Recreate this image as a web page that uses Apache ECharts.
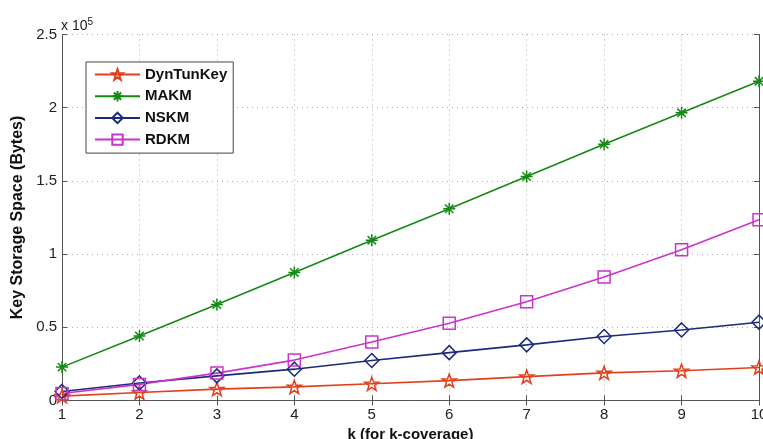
<!DOCTYPE html>
<html>
<head>
    <meta charset="UTF-8">
    <title>Key Storage Space</title>
    <script src="https://cdn.jsdelivr.net/npm/echarts@6/dist/echarts.min.js"></script>
    <style>
        html, body { margin: 0; padding: 0; background: #fff; }
        #main { width: 763px; height: 439px; }
    </style>
</head>
<body>
<div id="main"></div>
<script type="text/javascript">
    // k values and storage in bytes
    var kValues = [1, 2, 3, 4, 5, 6, 7, 8, 9, 10];
    var dynTunKey = [3000, 5500, 7800, 9300, 11400, 13600, 16300, 18900, 20300, 22500];
    var makm = [22800, 44000, 65500, 87500, 109500, 131000, 153000, 175000, 196500, 218000];
    var nskm = [6200, 12000, 16800, 21400, 27300, 32700, 38000, 43700, 48200, 53500];
    var rdkm = [4800, 11000, 18700, 27600, 40000, 52800, 67500, 84400, 103000, 123500];
    var yTickLabels = ['0', '0.5', '1', '1.5', '2', '2.5'];

    var starPath = 'path://M0,-100L23.5,-32.4L95.1,-30.9L38,12.4L58.8,80.9L0,40L-58.8,80.9L-38,12.4L-95.1,-30.9L-23.5,-32.4Z';
    var asteriskPath = 'path://M0,-100L0,100M-100,0L100,0M-70,-70L70,70M-70,70L70,-70';
    var diamondPath = 'path://M0,-100L100,0L0,100L-100,0Z';
    var squarePath = 'path://M-100,-100L100,-100L100,100L-100,100Z';

    function pairs(ys) {
        return kValues.map(function (k, i) { return [k, ys[i]]; });
    }

    function makeSeries(name, ys, color, symbol, size) {
        return {
            name: name,
            type: 'line',
            data: pairs(ys),
            symbol: symbol,
            symbolSize: size,
            symbolKeepAspect: true,
            showAllSymbol: true,
            color: color,
            lineStyle: { color: color, width: 1.6 },
            itemStyle: { color: 'rgba(255,255,255,0)', borderColor: color, borderWidth: 1.5 },
            emphasis: { disabled: true },
            z: 3
        };
    }

    var font = 'Liberation Sans, Arial, sans-serif';
    var frame = { show: true, lineStyle: { color: '#555', width: 1 } };

    var myChart = echarts.init(document.getElementById('main'));

    var option = {
        animation: false,
        backgroundColor: '#fff',
        textStyle: { fontFamily: font },
        title: {
            left: 56,
            top: 12,
            text: 'x 10{s|5}',
            textStyle: {
                fontSize: 14, fontWeight: 'normal', color: '#222', fontFamily: font,
                rich: { s: { fontSize: 10, verticalAlign: 'top', padding: [0, 0, 9, 0], color: '#222', fontFamily: font } }
            }
        },
        legend: {
            orient: 'vertical',
            left: 86,
            top: 62,
            padding: [5, 6, 6, 8],
            itemWidth: 45,
            itemHeight: 13,
            itemGap: 6.7,
            borderColor: '#444',
            borderWidth: 1,
            backgroundColor: '#fff',
            textStyle: { fontSize: 15, fontWeight: 'bold', color: '#111', fontFamily: font },
            data: ['DynTunKey', 'MAKM', 'NSKM', 'RDKM']
        },
        grid: { left: 62, right: 4, top: 34.5, bottom: 38.5, outerBoundsMode: 'none' },
        xAxis: [{
            type: 'value',
            min: 1,
            max: 10,
            interval: 1,
            name: 'k (for k-coverage)',
            nameLocation: 'middle',
            nameGap: 24,
            nameTextStyle: { fontSize: 15, fontWeight: 'bold', color: '#111', fontFamily: font },
            axisLine: frame,
            axisTick: { inside: true, length: 5, lineStyle: { color: '#555' } },
            axisLabel: { fontSize: 15, color: '#222', margin: 7, fontFamily: font },
            splitLine: { show: true, lineStyle: { color: '#aaa', type: [1, 4] } }
        }, {
            type: 'value',
            position: 'top',
            min: 1,
            max: 10,
            interval: 1,
            axisLine: frame,
            axisTick: { inside: true, length: 5, lineStyle: { color: '#555' } },
            axisLabel: { show: false },
            splitLine: { show: false }
        }],
        yAxis: [{
            type: 'value',
            min: 0,
            max: 250000,
            interval: 50000,
            name: 'Key Storage Space (Bytes)',
            nameLocation: 'middle',
            nameGap: 33,
            nameTextStyle: { fontSize: 16, fontWeight: 'bold', color: '#111', fontFamily: font },
            axisLine: frame,
            axisTick: { inside: true, length: 5, lineStyle: { color: '#555' } },
            axisLabel: {
                fontSize: 15, color: '#222', margin: 5, fontFamily: font,
                formatter: function (v) { return yTickLabels[Math.round(v / 50000)]; }
            },
            splitLine: { show: true, lineStyle: { color: '#aaa', type: [1, 4] } }
        }, {
            type: 'value',
            position: 'right',
            min: 0,
            max: 250000,
            interval: 50000,
            axisLine: frame,
            axisTick: { inside: true, length: 5, lineStyle: { color: '#555' } },
            axisLabel: { show: false },
            splitLine: { show: false }
        }],
        series: [
            makeSeries('DynTunKey', dynTunKey, '#e2401c', starPath, 14),
            makeSeries('MAKM', makm, '#148a14', asteriskPath, 12),
            makeSeries('NSKM', nskm, '#1b2a7a', diamondPath, 14),
            makeSeries('RDKM', rdkm, '#cc33cc', squarePath, 12)
        ]
    };

    myChart.setOption(option);
</script>
</body>
</html>
